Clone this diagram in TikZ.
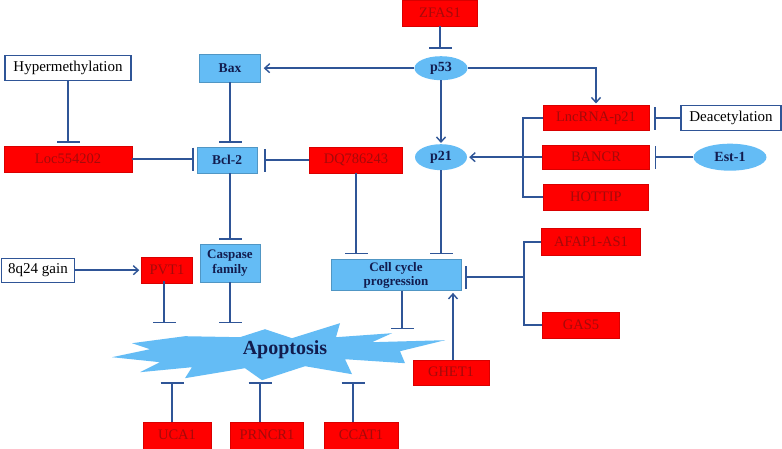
\documentclass[tikz,border=0pt]{standalone}
\usepackage{fontspec}
\setmainfont{Liberation Serif}
\usetikzlibrary{arrows.meta,shapes.geometric}
\definecolor{lblue}{RGB}{100,188,245}
\definecolor{lnblue}{RGB}{47,85,151}
\definecolor{txtblue}{RGB}{18,28,78}
\definecolor{dred}{RGB}{165,10,10}
\begin{document}
\begin{tikzpicture}[x=1pt,y=-1pt,
  redbox/.style={rectangle,fill=red,draw=red!85!black,line width=0.4pt,inner sep=0pt,text=dred,font=\fontsize{14.5}{16}\selectfont},
  bluebox/.style={rectangle,fill=lblue,draw=lblue!80!black,line width=0.4pt,inner sep=0pt,text=txtblue,align=center,font=\fontsize{13.5}{16}\selectfont\bfseries},
  blueell/.style={ellipse,fill=lblue,draw=none,inner sep=0pt,text=txtblue,font=\fontsize{14}{16}\selectfont\bfseries},
  whitebox/.style={rectangle,fill=white,draw=lnblue,line width=1.2pt,inner sep=0pt,text=black,font=\fontsize{15}{17}\selectfont},
  conn/.style={draw=lnblue,line width=1.6pt},
  inh/.style={conn,-{Bar[width=23pt,line width=1.6pt]}},
  arr/.style={conn,-{Straight Barb[length=5pt,width=9pt,line width=1.4pt]}}
]
\fill[white] (0,0) rectangle (782,448);

% apoptosis burst
\fill[lblue] (112,357) -- (150,349) -- (132,343) -- (185,336) -- (240,337) -- (265,329) -- (292,338) -- (340,323) -- (336,337) -- (392,333) -- (372,342) -- (445,340) -- (400,351) -- (405,363) -- (345,359) -- (352,374) -- (305,366) -- (262,380) -- (245,368) -- (185,378) -- (192,367) -- (140,372) -- (160,362) -- cycle;
\node[text=txtblue,font=\fontsize{20}{22}\selectfont\bfseries] (apo) at (285,349) {Apoptosis};
\coordinate (apotop) at (0,323);
\coordinate (apotop2) at (0,329);
\coordinate (apobot) at (0,382);

% nodes
\node[redbox,minimum width=75,minimum height=26] (zfas) at (440,13) {ZFAS1};
\node[blueell,minimum width=53,minimum height=24] (p53) at (441,68) {p53};
\node[bluebox,minimum width=61,minimum height=28] (bax) at (230,68) {Bax};
\node[whitebox,minimum width=126,minimum height=25] (hyper) at (68,68) {Hypermethylation};
\node[redbox,minimum width=128,minimum height=26] (loc) at (68,159) {Loc554202};
\node[bluebox,minimum width=60,minimum height=26] (bcl) at (227,160) {Bcl-2};
\node[redbox,minimum width=93,minimum height=26] (dq) at (356,160) {DQ786243};
\node[blueell,minimum width=52,minimum height=26] (p21) at (441,157) {p21};
\node[redbox,minimum width=106,minimum height=25] (lnc) at (596,118) {LncRNA-p21};
\node[whitebox,minimum width=100,minimum height=25] (deac) at (731,118) {Deacetylation};
\node[redbox,minimum width=107,minimum height=24] (bancr) at (596,157) {BANCR};
\node[blueell,minimum width=73,minimum height=27] (est) at (730,157) {Est-1};
\node[redbox,minimum width=105,minimum height=26] (hottip) at (596,197) {HOTTIP};
\node[redbox,minimum width=99,minimum height=27] (afap) at (591,242) {AFAP1-AS1};
\node[redbox,minimum width=77,minimum height=26] (gas) at (581,325) {GAS5};
\node[bluebox,minimum width=130,minimum height=31,font=\fontsize{13}{14.5}\selectfont\bfseries] (cell) at (396,275) {Cell cycle\\progression};
\node[redbox,minimum width=76,minimum height=25] (ghet) at (451,372) {GHET1};
\node[bluebox,minimum width=60,minimum height=38,font=\fontsize{13}{15}\selectfont\bfseries] (casp) at (230,263) {Caspase\\family};
\node[redbox,minimum width=51,minimum height=26] (pvt) at (167,270) {PVT1};
\node[whitebox,minimum width=73,minimum height=24] (g8) at (38,270) {8q24 gain};
\node[redbox,minimum width=68,minimum height=27] (uca) at (177,435) {UCA1};
\node[redbox,minimum width=73,minimum height=27] (prn) at (267,435) {PRNCR1};
\node[redbox,minimum width=74,minimum height=27] (ccat) at (361,435) {CCAT1};

\coordinate (brk1) at (523,157);
\coordinate (brk2) at (524,277);

% connectors
\draw[inh,shorten >=7pt] (zfas.south) -- (zfas.south |- p53.north);
\draw[arr,shorten >=3pt] (p53.west) -- (bax.east);
\draw[arr,shorten >=2pt] (p53.east) -| (lnc.north);
\draw[arr,shorten >=1pt] (p53.south) -- (p53.south |- p21.north);
\draw[inh,shorten >=3pt] (hyper.south) -- (loc.north);
\draw[inh,shorten >=3pt] (loc.east) -- (loc.east -| bcl.west);
\draw[inh,shorten >=4pt] (bax.south) -- (bax.south |- bcl.north);
\draw[inh,shorten >=7pt] (dq.west) -- (bcl.east);
\draw[inh,shorten >=4pt] (bax.south |- bcl.south) -- (bax.south |- casp.north);
\draw[inh,shorten >=5pt] (dq.south) -- (dq.south |- cell.north);
\draw[inh,shorten >=5pt] (p21.south) -- (p21.south |- cell.north);
\draw[conn] (lnc.west) -| (brk1) |- (hottip.west);
\draw[arr,shorten >=2pt] (bancr.west) -- (p21.east);
\draw[inh,shorten >=5pt] (deac.west) -- (lnc.east);
\draw[inh,shorten >=5pt] (est.west) -- (bancr.east);
\draw[conn] (afap.west) -| (brk2) |- (gas.west);
\draw[inh,shorten >=4pt] (brk2) -- (brk2 -| cell.east);
\draw[inh] ([xshift=6pt]cell.south) -- ([xshift=6pt]cell.south |- apotop2);
\draw[arr,shorten >=2pt] ([xshift=2pt]ghet.north) -- ([xshift=2pt]ghet.north |- cell.south);
\draw[arr,shorten >=2pt] (g8.east) -- (pvt.west);
\draw[inh] ([xshift=-3pt,yshift=2pt]pvt.south) -- ([xshift=-3pt]pvt.south |- apotop);
\draw[inh] (casp.south) -- (casp.south |- apotop);
\draw[inh] ([xshift=-5pt]uca.north) -- ([xshift=-5pt]uca.north |- apobot);
\draw[inh] ([xshift=-7pt]prn.north) -- ([xshift=-7pt]prn.north |- apobot);
\draw[inh] ([xshift=-8pt]ccat.north) -- ([xshift=-8pt]ccat.north |- apobot);
\end{tikzpicture}
\end{document}
